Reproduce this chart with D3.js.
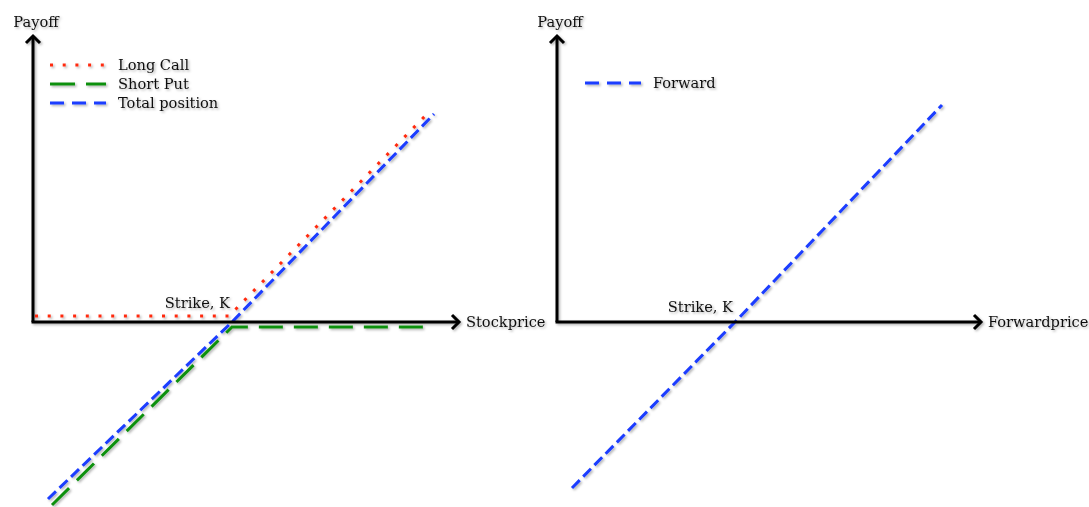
<!DOCTYPE html>
<html><head><meta charset="utf-8">
<script src="https://cdn.jsdelivr.net/npm/d3@7"></script>
<style>body{margin:0;background:#fff}svg{display:block}text{font-family:"DejaVu Serif",serif;font-size:14.6px;fill:#111}</style>
</head><body><svg id="c" width="1089" height="507"></svg>
<script>
// Data (payoff units)
const strikeLeft = 99.5;
const strikeRight = 89;
const longCallX = [1, 98, 197];
const longCallY = [3, 3, 104];
const shortPutX = [9.5, 99.5, 199];
const shortPutY = [-91.5, -2.5, -2.5];
const totalX = [7.5, 99.5, 200.5];
const totalY = [-88.5, 0, 104];
const forwardX = [7.5, 89, 192.5];
const forwardY = [-83, 0, 108.5];
const leftLegend = ["Long Call", "Short Put", "Total position"];
const rightLegend = ["Forward"];

const svg = d3.select("#c");
const defs = svg.append("defs");
const f = defs.append("filter").attr("id","sh").attr("x","-20%").attr("y","-20%").attr("width","140%").attr("height","140%");
f.append("feDropShadow").attr("dx",1.5).attr("dy",1.5).attr("stdDeviation",1).attr("flood-color","#000").attr("flood-opacity",0.3);

const styles = {
  call: {stroke:"#ff2a10", dash:"3,9.7", legendDash:"3,9.7"},
  put: {stroke:"#109010", dash:"24,11", legendDash:"25,11"},
  total: {stroke:"#1a3cff", dash:"11,5", legendDash:"14,8"},
  fwd: {stroke:"#1a3cff", dash:"11,5", legendDash:"14,8"}
};

function panel(ox, xEnd, strike, xLabel, series, legend, legendPos, strikeY) {
  const x = d3.scaleLinear().domain([0, (xEnd - ox) / 2]).range([ox, xEnd]);
  const y = d3.scaleLinear().domain([-92.5, 143.5]).range([507, 35]);
  const g = svg.append("g").attr("filter","url(#sh)");
  const line = d3.line().x(d => x(d[0])).y(d => y(d[1]));
  series.forEach(s => {
    g.append("path").attr("d", line(d3.zip(s.x, s.y))).attr("fill","none")
      .attr("stroke", s.st.stroke).attr("stroke-width", 3).attr("stroke-dasharray", s.st.dash);
  });
  const y0 = y(0), yTop = y(143.5);
  const ax = g.append("g").attr("fill","none").attr("stroke","#000").attr("stroke-width",3);
  ax.append("path").attr("d", `M${x(0)},${y0}V${yTop+1}`);
  ax.append("path").attr("d", `M${x(0)-7},${yTop+8}L${x(0)},${yTop+1}L${x(0)+7},${yTop+8}`);
  ax.append("path").attr("d", `M${x(0)-1.5},${y0}H${xEnd-1}`);
  ax.append("path").attr("d", `M${xEnd-8},${y0-7}L${xEnd-1},${y0}L${xEnd-8},${y0+7}`);
  g.append("text").attr("x", x(0) + 3).attr("y", 27).attr("text-anchor","middle").text("Payoff");
  g.append("text").attr("x", xEnd + 6).attr("y", y0 + 5).text(xLabel);
  g.append("text").attr("x", x(strike) - 2).attr("y", strikeY).attr("text-anchor","end").text("Strike, K");
  legend.forEach((name, i) => {
    const ly = legendPos[1] + i * 19;
    g.append("path").attr("d", `M${legendPos[0]},${ly}H${legendPos[0]+56}`).attr("fill","none")
      .attr("stroke", series[i].st.stroke).attr("stroke-width", 3)
      .attr("stroke-dasharray", series[i].st.legendDash);
    g.append("text").attr("x", legendPos[0] + 68).attr("y", ly + 5).text(name);
  });
}

panel(33, 460, strikeLeft, "Stockprice", [
  {x:longCallX, y:longCallY, st:styles.call},
  {x:shortPutX, y:shortPutY, st:styles.put},
  {x:totalX, y:totalY, st:styles.total}
], leftLegend, [50, 65], 308);

panel(557, 982, strikeRight, "Forwardprice", [
  {x:forwardX, y:forwardY, st:styles.fwd}
], rightLegend, [585, 83], 312);
</script></body></html>
